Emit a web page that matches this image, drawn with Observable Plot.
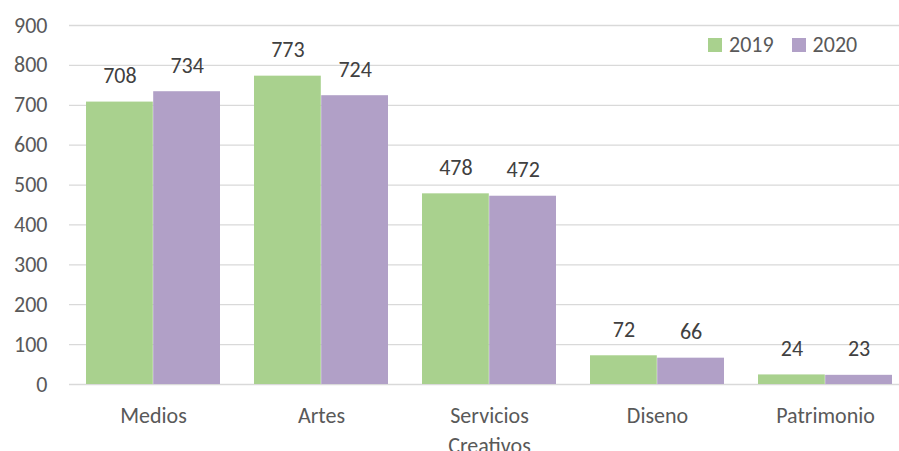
<!DOCTYPE html>
<html><head><meta charset="utf-8">
<script src="https://cdn.jsdelivr.net/npm/d3@7"></script>
<script src="https://cdn.jsdelivr.net/npm/@observablehq/plot@0.6"></script>
<style>
body{margin:0;background:#fff;font-family:Carlito,Lato,sans-serif;}
#wrap{position:relative;width:899px;height:451px;overflow:hidden;}
#legend{position:absolute;left:708px;top:31px;display:flex;align-items:center;font-size:22px;color:#595959;line-height:28px;}
#legend span.sw{display:inline-block;width:14px;height:14px;margin-right:7px;}
#legend span.it{margin-right:18px;}
</style></head>
<body><div id="wrap"><div id="legend"></div></div>
<script>
const categories = ["Medios","Artes","Servicios Creativos","Diseno","Patrimonio"];
const years = ["2019","2020"];
const values2019 = [708,773,478,72,24];
const values2020 = [734,724,472,66,23];
const colors = ["#a9d18e","#b1a0c7"];
const yTicks = [0,100,200,300,400,500,600,700,800,900];

const W = 899, H = 451, ML = 69, MR = -10, MT = 25, MB = 67;
const xOpts = {type:"band", domain:categories, paddingInner:0.2, paddingOuter:0.1};
const bw = Plot.scale({x:{...xOpts, range:[ML, W - MR]}}).bandwidth;
const half = bw / 2;

const d2019 = categories.map((c,i)=>({cat:c, year:"2019", value:values2019[i]}));
const d2020 = categories.map((c,i)=>({cat:c, year:"2020", value:values2020[i]}));

const chart = Plot.plot({
  width:W, height:H,
  marginLeft:ML, marginRight:MR, marginTop:MT, marginBottom:MB,
  style:{fontFamily:"Carlito, Lato, sans-serif", fontSize:"22px", color:"#595959", background:"#fff"},
  x:{...xOpts, label:null},
  y:{domain:[0,900], axis:null},
  color:{domain:years, range:colors},
  marks:[
    Plot.ruleY(yTicks, {stroke:"#d9d9d9", strokeWidth:1.3}),
    Plot.barY(d2019, {x:"cat", y:"value", fill:"year", insetRight:half}),
    Plot.barY(d2020, {x:"cat", y:"value", fill:"year", insetLeft:half}),
    Plot.text(d2019, {x:"cat", y:"value", text:d=>String(d.value), dx:-half/2, dy:-26, fill:"#404040", fontSize:22}),
    Plot.text(d2020, {x:"cat", y:"value", text:d=>String(d.value), dx:half/2, dy:-26, fill:"#404040", fontSize:22}),
    Plot.axisY(yTicks, {tickSize:0, tickPadding:22, fontSize:22, fill:"#595959", label:null}),
    Plot.axisX({anchor:"bottom", tickSize:0, tickPadding:17, fontSize:22, fill:"#595959", lineHeight:1.36, label:null,
      tickFormat:d=>d.replace(" ","\n")})
  ]
});
document.getElementById("wrap").prepend(chart);
const lg = document.getElementById("legend");
years.forEach((y,i)=>{
  lg.insertAdjacentHTML("beforeend", `<span class="sw" style="background:${colors[i]}"></span><span class="it">${y}</span>`);
});
</script>
</body></html>
